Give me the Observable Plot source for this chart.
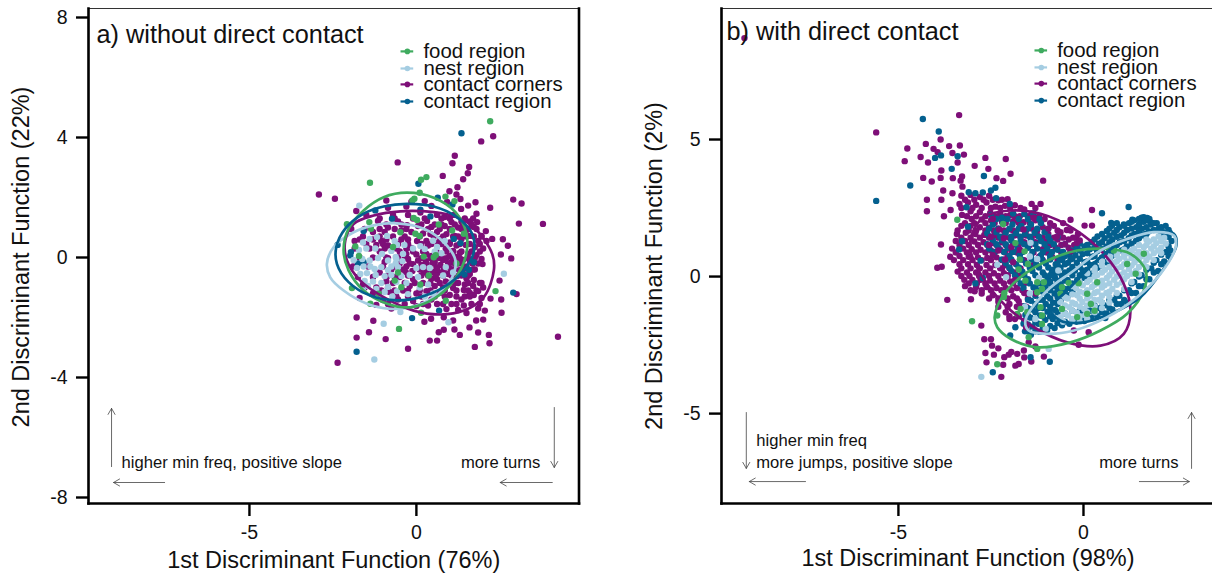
<!DOCTYPE html>
<html><head><meta charset="utf-8">
<script src="https://cdn.jsdelivr.net/npm/d3@7"></script>
<script src="https://cdn.jsdelivr.net/npm/@observablehq/plot@0.6"></script>
<style>
html,body{margin:0;padding:0;background:#fff;overflow:hidden;width:1212px;height:575px}
#wrap{position:relative;width:1212px;height:575px;overflow:hidden}
#wrap svg{position:absolute;top:0;background:transparent}
</style></head><body><div id="wrap"></div>
<script>
const regions = ["food region","nest region","contact corners","contact region"];
const colors = ["#3fab5f","#a5cde2","#7e0f78","#04608f"];

// Panel a
const foodA = [[2.21,4.54],[.30,2.68],[.14,2.59],[-1.39,2.49],[.10,2.16],[-.06,1.96],[-.12,1.9],[.87,2.03],[1.14,1.88],[-.08,1.32],[.02,1.25],[-1.41,1.18],[-2.08,1.11],[-1.36,.96],[-.48,.84],[.67,1.10],[1.07,.90],[1.42,.79],[-.03,.79],[.1,.72],[-1.83,.37],[-1.72,.05],[.52,.01],[.58,.08],[.22,.03],[-.65,-.77],[-1.13,-1.21],[-1.93,-1.02],[-.45,-.99],[.12,-.90],[.37,-.60],[.88,-1.44],[.14,-1.84],[2.37,-1.12],[-.52,-2.38],[-1.38,-1.54],[-.7,.35],[-.55,-.5],[1.2,-.2]];
const nestA = [[-1.71,1.73],[2.62,-.54],[-.98,-2.21],[.96,-2.16],[-1.26,-3.40],[-.48,-1.82],
[-1.6,.5],[-1.4,.62],[-1.18,.68],[-.88,.72],[-.65,.55],[-.58,.42],[-.36,.42],[.12,.38],[.5,.56],[.85,.55],[.62,.35],
[-1.72,.25],[-1.5,.3],[-1.23,.3],[-1.03,.12],[-.75,.22],[-.62,.02],[-.4,.12],[-.1,.3],[.25,.28],[.55,.2],[.75,.14],
[-1.88,-.08],[-1.62,-.05],[-1.4,-.1],[-1.15,-.02],[-.85,-.1],[-.6,-.05],[-.42,-.12],[-.62,-.2],[-.75,-.3],
[-1.58,-.3],[-1.78,-.35],[-1.38,-.3],[-1.25,-.38],[-1.05,-.32],[-.85,-.42],[-.55,-.32],[.0,-.35],[.2,-.32],[.4,-.35],[.88,-.32],
[-1.68,-.55],[-1.48,-.52],[-1.22,-.58],[-.95,-.62],[-.75,-.58],[-.45,-.62],[-.2,-.58],[.05,-.65],[.8,-.6],[1.1,-.5],
[-1.55,-.78],[-1.3,-.8],[-1.45,-.95],[-1.05,-.85],[-.85,-.98],[-.6,-.82],[-.3,-.85],[.1,-1.0],[.35,-.9],
[-1.2,-1.05],[-.95,-1.15],[-.58,-1.12],[-.25,-1.22],[.25,-1.3],[.5,-1.2],[-.72,-1.3],[-1.6,-1.1]];
const cornersA = [[2.30,4.04],[1.94,3.87],[1.15,3.39],[1.08,3.14],[-.56,3.17],[1.58,3.02],[1.54,2.81],[.79,2.72],[1.40,2.61],[1.23,2.34],[.99,2.21],[1.20,2.10],[-2.92,2.10],[-2.44,1.96],[2.90,1.93],[3.15,1.80],[2.21,1.66],[1.77,1.84],[1.55,1.73],[1.34,1.62],[1.80,1.46],[3.07,1.13],[3.79,1.12],[2.08,.88],[2.59,.61],[2.27,.62],[2.74,.39],[2.53,.10],[2.84,-.03],[2.49,-.77],[3.00,-1.22],[2.54,-1.40],[2.22,-1.37],[2.55,-1.84],[2.00,-2.07],[2.05,-1.77],[1.79,-2.10],[1.59,-2.33],[1.14,-2.40],[1.30,-2.58],[1.85,-2.50],[2.17,-2.58],[2.19,-2.86],[1.75,-2.98],[4.24,-2.64],[.62,-2.77],[.40,-2.77],[-.25,-3.04],[-.92,-2.72],[-1.79,-2.67],[-1.42,-2.49],[-1.29,-2.11],[-1.79,-2.00],[-2.36,-3.51],[.67,-2.49],[.82,-2.41],[1.10,-2.10],[.24,-2.14],[.44,-2.04],[.82,-1.99],
[-.9,1.9],[-.15,1.86],[.25,1.88],[.45,1.72],[.92,1.85],[1.32,1.95],[-.85,1.66],[-.3,1.7],[-1.8,1.55],[-1.5,1.42],[-.7,1.42],[-.25,1.42],[.12,1.5],[.32,1.22],[.62,1.42],[.85,1.35],[1.12,1.42],[1.35,1.2],[1.6,1.2],[1.82,1.18],
[-1.15,1.22],[-.55,1.2],[-.28,1.08],[.05,1.05],[.45,1.02],[.85,1.05],[1.05,1.18],[1.25,1.0],[1.5,.92],[1.72,1.02],[1.95,.72],[-1.95,.95],[-.85,1.0],[-1.3,.85],[-.95,.85],[-.45,.9],[-.15,.85],[.2,.8],[.42,.78],[.62,.85],[.9,.78],[1.15,.72],[1.35,.62],[1.6,.72],[1.85,.55],[2.1,.55],
[-1.05,.55],[-.25,.6],[.02,.55],[.3,.55],[.72,.62],[1.0,.5],[1.2,.4],[1.48,.42],[1.75,.35],[2.0,.3],[-1.85,.55],[-1.2,.42],[-.85,.4],[-.15,.32],[.35,.4],[.65,.5],[.88,.3],[1.1,.22],[1.3,.15],[1.55,.12],[1.8,.08],[1.95,-.05],
[-.3,.12],[.0,.1],[.3,.12],[.45,.05],[.75,.02],[1.0,.05],[1.18,.02],[1.4,-.08],[1.6,-.12],[1.85,-.2],[1.98,-.22],[-.95,-.15],[-.25,-.05],[.05,-.1],[.28,-.12],[.55,-.15],[.8,-.08],[1.05,-.15],[1.25,-.2],[1.5,-.3],[1.75,-.4],
[-.3,-.3],[-.1,-.22],[.15,-.25],[.6,-.32],[.72,-.25],[1.0,-.35],[1.28,-.42],[1.6,-.55],[-1.1,-.5],[-.32,-.48],[-.12,-.45],[.22,-.5],[.5,-.48],[.68,-.5],[.95,-.55],[1.22,-.62],[1.5,-.7],[1.72,-.75],[1.9,-.85],[2.0,-1.0],
[-.65,-.65],[-.1,-.72],[.45,-.7],[.62,-.72],[.88,-.8],[1.15,-.85],[1.45,-.9],[1.7,-.95],[1.85,-1.12],[-1.6,-.9],[-.9,-.8],[-.2,-.95],[.55,-.95],[.8,-1.0],[1.1,-1.02],[1.42,-1.08],[1.6,-1.18],[1.72,-1.25],[1.45,-1.3],
[-1.3,-1.2],[-.8,-1.15],[-.4,-1.1],[.0,-1.2],[.3,-1.12],[.7,-1.18],[1.0,-1.25],[1.35,-1.4],[1.95,-1.35],[-1.0,-1.42],[-.55,-1.4],[-.1,-1.45],[.45,-1.4],[.62,-1.55],[1.05,-1.55],[1.42,-1.6],[1.9,-1.55],[-1.7,-1.35],[-1.2,-1.58],[-.75,-1.7],[.0,-1.62],[.35,-1.6],[.9,-1.72],[1.25,-1.75],[1.5,-1.85],[1.85,-1.7]];
const cornersARows = [[1.3,[-1.1,-.65,-.1,.25,.75,1.0,1.45,1.7]],[1.1,[-.9,-.45,.15,.55,.75,1.15,1.4,1.65]],[.95,[-1.55,-1.1,-.65,-.3,.35,.7,1.0,1.35,1.55,1.8]],[.7,[-1.6,-1.1,-.7,-.35,.1,.52,.8,1.1,1.25,1.5,1.72,1.95]],[.45,[-1.5,-1,-.55,-.25,.15,.45,.75,1.0,1.3,1.6,1.9]],[.2,[-1.1,-.5,-.1,.2,.6,.9,1.1,1.35,1.65,1.9]],[-.02,[-.85,-.35,.15,.42,.68,.9,1.12,1.3,1.55,1.75]],[-.2,[-.5,-.2,.3,.48,.95,1.15,1.35,1.68]],[-.4,[-.75,-.4,.1,.35,.62,.82,1.12,1.4,1.7]],[-.6,[-.85,-.25,.15,.35,.58,.8,1.05,1.35,1.55]],[-.85,[-.7,-.35,-.05,.2,.42,.7,.98,1.25,1.55,1.95]],[-1.1,[-1.05,-.65,-.25,.1,.42,.85,1.2,1.55,1.8]],[-1.3,[-.6,-.25,.15,.55,.85,1.2,1.6]],[-1.55,[-.85,-.35,.2,.8,1.2,1.65]],
[.6,[-1.7,-1.3,-.9,-.45]],[.3,[-1.85,-1.4,-.95,-.6,-.3]],[0,[-1.7,-1.3,-.9,-.55]],[-.3,[-1.9,-1.45,-1,-.65]],[-.65,[-1.75,-1.3,-.9,-.5]],[-1,[-1.55,-1.2,-.85]]];
const regionA = [[1.35,4.14],[.06,2.46],[.64,1.99],[1.08,1.77],[-.73,1.29],[.42,1.37],[-1.58,.88],[-2.36,.42],[-1.96,.18],[-1.98,.07],[1.12,.62],[1.32,.48],[-1.58,-.16],[1.44,-.57],[1.72,-.16],[2.90,-1.17],[.68,-1.77],[-.13,-2.02],[-1.79,-3.14],[.12,1.59],[-1.23,1.57],[1.57,-.41],[-1.75,-.2]];
const ellipseA = {
 food:[[-.28,2.16],[.52,1.99],[1.17,1.51],[1.50,.79],[1.47,.01],[1.12,-.77],[.52,-1.38],[-.18,-1.66],[-.88,-1.54],[-1.58,-1.10],[-2.03,-.43],[-2.18,.23],[-2.03,.96],[-1.58,1.57],[-.98,2.01]],
 nest:[[-2.68,-.21],[-2.48,.34],[-1.88,.84],[-1.28,1.07],[-.58,1.14],[.22,.96],[.82,.51],[1.17,-.10],[1.02,-.77],[.52,-1.32],[-.18,-1.66],[-.78,-1.71],[-1.48,-1.54],[-2.18,-1.10],[-2.58,-.66]],
 corners:[[-.48,1.54],[.52,1.51],[1.22,1.34],[1.72,1.01],[2.27,.12],[2.32,-.43],[2.02,-1.32],[1.42,-1.77],[.72,-1.90],[-.08,-1.77],[-.98,-1.32],[-1.68,-.77],[-2.08,-.10],[-2.13,.57],[-1.88,1.12],[-1.28,1.40]],
 region:[[-.28,1.79],[.52,1.70],[1.22,1.34],[1.67,.79],[1.72,.18],[1.42,-.43],[.82,-.99],[.12,-1.32],[-.58,-1.43],[-1.38,-1.27],[-2.03,-.82],[-2.38,-.21],[-2.40,.34],[-2.13,.96],[-1.58,1.46],[-.98,1.70]]
};

// Panel b
const foodB = [[-3.41,2.07],[-2.17,1.92],[-1.84,1.22],[-1.59,.92],[-1.72,.62],[-1.50,.46],[-1.75,.26],[-1.25,-.21],[-1.07,-.21],[-1.12,-.45],[-1.25,-.57],[-1.57,-.15],[-2.14,-.61],[-2.15,-.75],[-2.33,-1.42],[-1.70,-1.18],[-1.79,-1.36],[-1.52,-1.30],[-1.16,-1.12],[-1.12,-1.42],[-1.12,-1.73],[-3.01,-1.63],[-1.48,-2.21],[-1.25,-2.64],[-2.33,-3.20],[-.62,-.63],[-.40,-.23],[-.13,-.24],[-.58,-.39],[.10,-.63],[.37,-.21],[-.58,-1.18],[-.17,-1.48],[.10,-1.36],[1.41,.10],[1.63,.83],[.82,.95],[1.18,.46],[.2,-1.0],[.3,-1.25]];
const nestB = [[-2.76,-3.66],[-.94,-2.64],[-1.43,1.23],[-1.45,.73],[-1.25,.64],[-2.33,.43],[-2.09,-.02],[-1.2,-.05],[-.68,.22],[-1.58,-1.1],[-1.45,-.62],[-1.3,-1.55],[-1.02,-1.9],
[-.62,-1.48],[-.58,-1.2],[-.63,-.92],[-.42,-1.42],[-.38,-1.12],[-.43,-.8],[-.18,-1.32],[-.22,-1.0],[-.17,-.68],[-.2,-.42],[.02,-1.18],[-.03,-.93],[.03,-.6],[-.02,-.32],[.2,-.96],[.18,-.7],[.23,-.38],[.17,-.12],[.42,-.85],[.38,-.55],[.42,-.25],[.37,.05],[.62,-.6],[.57,-.32],[.63,-.05],[.58,.25],[.78,-.45],[.83,-.12],[.77,.18],[.82,.5],[1.03,-.22],[.98,.07],[1.02,.35],[.97,.65],[1.18,.02],[1.23,.28],[1.17,.55],[1.22,.85],[1.42,.2],[1.38,.52],[1.43,.8],[1.37,1.02],[1.62,.45],[1.58,.75],[1.63,1.07],[1.78,.72],[1.83,1.02],[1.77,1.28],[2.02,.95],[1.97,1.22],[2.03,1.46],[2.22,1.2],[2.18,1.42],[.5,.55],[.72,.72],[.3,.32],[.1,.12],[1.1,.82],[.92,.88],[-.55,-1.65],[-.3,-1.6],[.05,-1.4]];
const nestBCols = [[-.5,[-1.35,-1.05,-.75]],[-.3,[-1.55,-1.25,-.95,-.65,-.35]],[-.1,[-1.65,-1.45,-1.1,-.8,-.55,-.25]],[.1,[-1.55,-1.3,-1.05,-.8,-.5,-.2]],[.3,[-1.3,-1.08,-.85,-.6,-.3,0,.2]],[.5,[-1.15,-.95,-.7,-.4,-.15,.15,.4]],[.7,[-.95,-.75,-.55,-.25,.05,.35,.62]],[.9,[-.6,-.3,0,.3,.55,.78]],[1.1,[-.45,-.1,.15,.45,.72,.98]],[1.3,[-.2,.1,.4,.68,.95]],[1.5,[.08,.35,.62,.9,1.15]],[1.7,[.35,.6,.85,1.15,1.35]],[1.9,[.6,.85,1.1,1.35]],[2.1,[.85,1.05,1.3]]];
const cornersB = [[-9.16,8.7],[-3.36,5.89],[-5.60,5.26],[-3.86,5.00],[-4.26,4.84],[-4.76,4.67],[-3.63,4.76],[-3.34,4.78],[-4.05,4.66],[-3.94,4.54],[-3.54,4.51],[-3.23,4.45],[-4.40,4.36],[-4.83,4.21],[-4.20,4.16],[-3.40,4.16],[-2.65,4.33],[-2.10,4.29],[-2.94,4.04],[-2.57,3.93],[-3.84,3.87],[-1.97,3.75],[-4.33,3.60],[-4.10,3.47],[-3.86,3.60],[-3.53,3.59],[-3.32,3.50],[-3.28,3.65],[-2.35,3.59],[-2.17,3.49],[-1.09,3.50],[-3.79,3.14],[-3.54,3.04],[-3.27,3.28],[-4.23,2.80],[-3.84,2.80],[-4.23,2.38],[-3.59,2.43],[-3.77,2.20],[-3.85,1.17],[-3.95,.32],[-3.83,.36],[-3.68,-.85],[-1.40,2.65],[-1.16,2.65],[.23,2.43],[-.35,2.07],[.03,1.86],[.23,1.86],[-2.68,-2.29],[-2.50,-2.29],[-2.47,-2.52],[-2.65,-2.79],[-2.42,-2.85],[-2.62,-3.13],[-2.17,-3.22],[-2.22,-3.66],[-2.14,-2.94],[-2.02,-2.85],[-1.84,-3.25],[-1.75,-3.19],[-1.61,-2.70],[-1.41,-3.10],[-1.07,-2.92],[-1.79,-2.82],[-2.76,-1.79],[-3.04,-.83],[-2.94,-.54],[-.13,-2.49],[-1.48,-2.40],[.14,-2.03],[-.26,-1.97],[-1.95,-2.75],[-1.6,-2.95],[-1.3,-2.55],[-2.3,-2.62],
[-3.3,2.95],[-3.05,2.98],[-2.8,2.9],[-2.55,2.95],[-2.3,2.78],[-2.05,2.82],[-3.35,2.65],[-3.12,2.7],[-2.9,2.62],[-2.62,2.7],[-2.38,2.55],[-2.12,2.58],[-1.85,2.6],[-1.6,2.45],[-3.28,2.25],[-3.05,2.38],[-2.8,2.35],[-2.52,2.32],[-2.25,2.28],[-1.98,2.25],[-1.72,2.2],[-1.4,2.3],[-3.02,2.1],[-2.75,2.08],[-2.5,2.05],[-2.2,2.0],[-1.9,2.02],[-1.62,1.98],[-1.3,2.05],[-1.05,2.1],[-3.3,1.85],[-3.05,1.85],[-2.8,1.8],[-2.55,1.78],[-2.3,1.75],[-2.0,1.72],[-1.7,1.75],[-1.4,1.75],[-1.1,1.8],[-.8,1.85],[-3.42,1.55],[-3.18,1.6],[-2.92,1.55],[-2.68,1.52],[-2.4,1.5],[-2.15,1.48],[-1.85,1.5],[-1.55,1.5],[-1.25,1.5],[-.95,1.55],[-.65,1.6],[-.45,1.7],
[-3.45,1.3],[-3.2,1.3],[-2.95,1.28],[-2.7,1.25],[-2.45,1.22],[-2.2,1.25],[-1.9,1.22],[-1.6,1.25],[-1.3,1.25],[-1.0,1.28],[-.7,1.35],[-.4,1.35],[-.15,1.55],[-3.55,1.02],[-3.25,1.02],[-3.02,1.0],[-2.78,.98],[-2.5,.95],[-2.25,.98],[-1.95,.95],[-1.1,1.0],[-.75,1.05],[-.4,1.05],[-3.6,.72],[-3.35,.75],[-3.1,.72],[-2.85,.7],[-2.6,.68],[-2.35,.7],[-2.05,.7],[-1.2,.72],[-.85,.72],[-3.35,.45],[-3.12,.45],[-2.88,.42],[-2.62,.42],[-2.38,.42],[-2.12,.42],[-1.35,.42],[-3.4,.18],[-3.15,.15],[-2.9,.15],[-2.65,.15],[-2.42,.12],[-2.15,.12],[-1.85,.15],[-3.22,-.12],[-3.0,-.12],[-2.78,-.12],[-2.52,-.15],[-2.25,-.15],[-1.98,-.18],[-3.2,-.35],[-2.9,-.38],[-2.62,-.38],[-2.35,-.42],[-2.1,-.42],[-1.8,-.42],[-2.75,-.62],[-2.45,-.68],[-2.18,-.72],[-1.9,-.72],[-1.6,-.6],[-2.3,-.92],[-2.0,-1.0],[-1.75,-.9],[-2.1,-1.3],[-1.85,-1.55],[-1.6,-1.62]];
const cornersBRows = [[2.8,[-3.2,-2.95,-2.7,-2.45,-2.2]],[2.5,[-3.3,-3.0,-2.75,-2.5,-2.25,-1.98,-1.7,-1.3]],[2.2,[-3.15,-2.9,-2.65,-2.38,-2.1,-1.85,-1.5,-1.2]],[1.95,[-3.2,-2.95,-2.65,-2.4,-2.1,-1.75,-1.45,-1.15,-.9,-.55]],[1.68,[-3.4,-3.1,-2.9,-2.65,-2.42,-2.15,-1.9,-1.55,-1.25,-1.0,-.7,-.35]],[1.42,[-3.3,-3.05,-2.8,-2.55,-2.3,-2.0,-1.7,-1.4,-1.1,-.8,-.55,-.2]],[1.15,[-3.35,-3.1,-2.85,-2.6,-2.35,-2.1,-1.75,-1.45,-.9,-.6,-.25]],[.88,[-3.45,-3.15,-2.9,-2.65,-2.4,-2.12,-1.8,-1.35,-1.0,-.6]],[.6,[-3.5,-3.25,-3.0,-2.75,-2.5,-2.22,-1.95,-1.6,-1.1,-.7]],[.3,[-3.3,-3.05,-2.8,-2.52,-2.25,-2.0,-1.7]],[.02,[-3.3,-3.08,-2.82,-2.55,-2.3,-2.05,-1.75]],[-.25,[-3.1,-2.88,-2.65,-2.4,-2.15,-1.9,-1.6]],[-.5,[-3.05,-2.75,-2.5,-2.22,-1.95,-1.65]],[-.8,[-2.55,-2.3,-2.05,-1.8,-1.5]],[-1.1,[-2.3,-2.05,-1.8,-1.55]],[-1.45,[-2.0,-1.75,-1.5]]];
const cornersBTop = [[-2.45,2.1],[-2.28,1.72],[-2.5,1.45],[-2.15,1.4],[-2.55,1.15],[-2.3,.95],[-2.45,.78],[-2.12,.62],[-1.95,1.08],[-1.9,.52],[-2.2,.3],[-2.05,.05],[-1.85,-.12],[-1.62,1.72],[-1.72,.98],[-1.35,2.15],[-.95,1.75],[-.72,1.45],[-.5,1.18],[-.28,1.42],[-.18,1.22],[-.62,1.62],[-.35,.92],[-.1,1.32],[-1.55,-.6],[-1.3,-.62],[-2.0,-1.55],[-1.55,-1.85],[-1.72,-1.05]];
const regionB = [[-4.34,5.75],[-3.91,5.29],[-3.85,4.42],[-4.01,4.33],[-3.40,4.39],[-3.56,3.93],[-2.69,3.67],[-4.68,3.32],[-5.60,2.76],[-3.10,3.08],[-2.92,3.04],[-2.72,3.07],[-2.50,3.14],[-2.38,3.24],[-2.36,2.86],[-3.16,2.53],[-1.99,2.65],[-3.28,1.29],[-3.36,.99],[-2.78,.58],[-3.12,1.82],[.50,2.31],[1.22,2.54],[.75,1.96],[1.09,1.90],[1.32,2.07],[1.63,2.17],[1.72,2.14],[1.81,1.98],[-.91,-3.11],[-2.45,-3.49],[-1.43,-2.94],[.59,-1.51],[-1.84,-1.85],[-2.92,-.25],[-2.72,-.05],[-1.98,-2.15],
[-2.5,2.25],[-2.2,2.15],[-1.9,2.3],[-1.6,2.28],[-1.35,2.3],[-2.45,1.9],[-2.18,1.95],[-1.92,1.9],[-1.68,1.85],[-1.42,1.9],[-1.15,1.95],[-2.6,1.58],[-2.35,1.62],[-2.1,1.6],[-1.82,1.58],[-1.58,1.55],[-1.32,1.6],[-1.05,1.62],[-2.45,1.32],[-2.2,1.32],[-1.95,1.32],[-1.7,1.28],[-1.42,1.32],[-1.15,1.3],[-.9,1.3],[-2.55,1.02],[-2.3,1.05],[-2.05,1.05],[-1.78,1.02],[-1.5,1.05],[-1.25,1.02],[-.98,1.02],[-.7,.98],[-2.0,.75],[-1.72,.78],[-1.42,.75],[-1.15,.78],[-.9,.75],[-.6,.72],[-2.1,.48],[-1.82,.45],[-1.55,.48],[-1.28,.45],[-1.02,.48],[-.75,.45],[-1.95,.2],[-1.65,.18],[-1.38,.2],[-1.1,.15],[-.85,.18],[-1.78,-.08],[-1.5,-.1],[-1.2,-.12],[-.95,-.1],[-1.62,-.42],[-1.35,-.4],[-1.08,-.42],
[-1.58,-2.0],[-1.62,-1.72],[-1.57,-1.4],[-1.62,-1.08],[-1.42,-2.12],[-1.38,-1.82],[-1.43,-1.5],[-1.38,-1.2],[-1.42,-.88],[-1.18,-2.02],[-1.22,-1.72],[-1.17,-1.42],[-1.22,-1.15],[-1.18,-.85],[-1.22,-.52],[-.98,-1.95],[-1.03,-1.58],[-.97,-1.28],[-1.02,-1.0],[-.98,-.72],[-1.03,-.38],[-.97,-.12],[-.78,-1.88],[-.83,-1.55],[-.77,-1.22],[-.82,-.95],[-.78,-.62],[-.83,-.35],[-.77,-.05],[-.82,.25],[-.58,-1.78],[-.62,-.88],[-.57,-.58],[-.62,-.28],[-.58,.02],[-.62,.32],[-.57,.6],[-.38,-1.72],[-.42,-.68],[-.37,-.42],[-.43,-.12],[-.38,.22],[-.42,.5],[-.38,.82],[-.18,-1.65],[-.22,-.42],[-.17,-.12],[-.23,.22],[-.18,.5],[-.22,.78],[-.17,1.05],[.02,-1.62],[-.03,-1.38],[.03,-.05],[-.02,.22],[.03,.52],[-.02,.82],[.03,1.1],[.22,-1.52],[.18,-1.25],[.22,.1],[.18,.42],[.23,.72],[.17,1.0],[.22,1.25],[.38,-1.45],[.43,-1.15],[.38,.32],[.43,.6],[.37,.92],[.42,1.2],[.38,1.46],[.62,-1.35],[.57,-1.05],[.63,.52],[.58,.82],[.62,1.1],[.57,1.4],[.63,1.66],[.78,-1.2],[.83,-.85],[.77,.76],[.82,1.05],[.78,1.35],[.83,1.6],[.77,1.85],[1.02,-1.0],[.97,-.7],[1.03,.95],[.98,1.25],[1.02,1.5],[.97,1.8],[1.18,-.95],[1.23,-.5],[1.17,1.1],[1.22,1.4],[1.18,1.7],[1.23,1.95],[1.42,-.6],[1.37,-.2],[1.42,1.3],[1.38,1.55],[1.43,1.8],[1.37,2.05],[1.62,-.35],[1.57,.05],[1.63,1.5],[1.58,1.75],[1.62,2.0],[1.57,2.15],[1.78,-.1],[1.83,.3],[1.77,1.65],[1.82,1.9],[1.78,2.1],[2.02,.2],[1.97,.6],[2.03,1.75],[1.98,1.95],[2.18,.55],[2.23,.9],[2.17,1.6],[2.22,1.85],[2.35,.95],[2.38,1.3],[2.33,1.6]];
const regionBCols = [[-1.5,[-2.0,-1.75,-1.45,-1.15,-.85]],[-1.3,[-2.0,-1.65,-1.3,-1.0,-.7,-.4]],[-1.1,[-1.9,-1.45,-1.15,-.85,-.55,-.25]],[-.9,[-1.8,-1.45,-1.1,-.8,-.5,-.2,.05]],[-.7,[-1.7,-1.3,-1.0,-.75,-.45,-.15,.15,.45]],[-.5,[-1.65,-1.35,-.75,-.45,-.15,.15,.45,.75]],[-.3,[-1.6,-1.25,-.55,-.25,.05,.35,.65,.95]],[-.1,[-1.5,-1.25,-.25,.05,.35,.65,.95,1.2]],[.1,[-1.45,-1.15,-.05,.25,.55,.85,1.15]],[.3,[-1.35,-1.05,.15,.45,.75,1.05,1.35]],[.5,[-1.3,-.95,.4,.7,1.0,1.25,1.55]],[.7,[-1.15,-.85,.65,.95,1.25,1.5,1.75]],[.9,[-1.0,-.7,.85,1.15,1.45,1.7,1.95]],[1.1,[-.85,-.5,1.0,1.3,1.6,1.85]],[1.3,[-.6,-.25,1.2,1.5,1.75,2.0]],[1.5,[-.35,0,1.4,1.65,1.9,2.1]],[1.7,[-.1,.25,1.55,1.8,2.05]],[1.9,[.15,.5,1.7,1.95]],[2.1,[.45,.8,1.55,1.8]],[2.3,[.75,1.1,1.45,1.7]]];
const regionBRows = [[2.1,[-2.35,-2.05,-1.75,-1.5,-1.2]],[1.75,[-2.55,-2.3,-2.0,-1.75,-1.5,-1.25,-.95]],[1.45,[-2.5,-2.25,-1.95,-1.7,-1.45,-1.2,-.95,-.7]],[1.18,[-2.6,-2.35,-2.1,-1.85,-1.6,-1.3,-1.05,-.8,-.5]],[.9,[-2.4,-2.15,-1.9,-1.65,-1.38,-1.1,-.85,-.55]],[.62,[-2.2,-1.95,-1.68,-1.4,-1.12,-.9,-.65,-.35]],[.33,[-2.0,-1.75,-1.45,-1.2,-.95,-.7]],[.05,[-1.85,-1.6,-1.3,-1.05,-.8]],[-.25,[-1.7,-1.45,-1.2,-.95,-.7]]];
const ellipseB = {
 food:[[-2.40,-1.48],[-2.20,-.75],[-1.70,-.02],[-.98,.58],[-.17,.95],[.64,1.01],[1.27,.83],[1.68,.22],[1.63,-.51],[1.18,-1.36],[.46,-1.97],[-.35,-2.40],[-1.25,-2.58],[-1.97,-2.27],[-2.33,-1.85]],
 nest:[[-1.57,-1.61],[-.98,-.51],[-.26,.22],[.46,.95],[1.18,1.37],[1.90,1.62],[2.44,1.50],[2.49,1.07],[2.08,.10],[1.45,-.75],[.64,-1.48],[-.26,-1.97],[-.98,-2.09],[-1.48,-1.97]],
 corners:[[-3.01,1.56],[-2.69,2.17],[-1.97,2.41],[-1.16,2.29],[-.26,1.74],[.55,.83],[1.09,-.27],[1.27,-1.24],[1.09,-2.09],[.46,-2.52],[-.44,-2.40],[-1.34,-1.85],[-2.15,-1.00],[-2.78,.10],[-3.05,.95]],
 region:[[-.89,-1.18],[-.44,-.51],[.46,.71],[1.18,1.37],[1.90,1.68],[2.44,1.56],[2.51,1.13],[2.13,.22],[1.54,-.75],[.73,-1.36],[.01,-1.67],[-.62,-1.61]]
};

const ticksAx=[-5,0], ticksAy=[-8,-4,0,4,8], ticksBx=[-5,0], ticksBy=[-5,0,5];
const font="Liberation Sans, Arial, sans-serif";
const ink="#111";
const fromRows=rows=>rows.flatMap(([y,xs])=>xs.map(x=>[x,y]));
const fromCols=cols=>cols.flatMap(([x,ys])=>ys.map(y=>[x,y]));

function panel(o){
  const dotMark=(arr,c)=>Plot.dot(arr,{x:d=>d[0],y:d=>d[1],r:3.2,fill:c,stroke:"none"});
  const ell=(arr,c)=>Plot.line(arr,{x:d=>d[0],y:d=>d[1],stroke:c,strokeWidth:2.7,curve:"catmull-rom-closed"});
  const arrow=(a)=>Plot.arrow([a],{x1:a[0],y1:a[1],x2:a[2],y2:a[3],stroke:"#444",strokeWidth:.8,headLength:13,headAngle:60,bend:0});
  return Plot.plot({
    width:o.width,height:575,
    marginLeft:o.ml,marginRight:o.mr,marginTop:8,marginBottom:72,
    style:{fontFamily:font,background:"transparent"},
    x:{domain:o.xd,axis:null},
    y:{domain:o.yd,axis:null},
    marks:[
      ...o.dots.map(([a,c])=>dotMark(a,c)),
      ...o.ell.map(([a,c])=>ell(a,c)),
      Plot.frame({anchor:"top",stroke:"#333",strokeWidth:1.2}),
      Plot.frame({anchor:"left",stroke:"#000",strokeWidth:2.6}),
      Plot.frame({anchor:"bottom",stroke:"#000",strokeWidth:2.6}),
      Plot.frame({anchor:"right",stroke:"#000",strokeWidth:2.6}),
      Plot.axisX(o.xt,{anchor:"bottom",tickSize:13,strokeWidth:2.4,stroke:"#000",fontSize:19.5,tickPadding:9,label:null,tickFormat:d=>String(d),fill:ink}),
      Plot.axisY(o.yt,{anchor:"left",tickSize:12,strokeWidth:2.4,stroke:"#000",fontSize:19.5,tickPadding:9,label:null,tickFormat:d=>String(d),fill:ink}),
      Plot.text([o.xl],{frameAnchor:"bottom",dy:o.xldy,dx:o.xldx,fontSize:23.5,fill:ink}),
      Plot.text([o.yl],{frameAnchor:"left",textAnchor:"middle",dx:o.yldx,dy:o.yldy,rotate:-90,fontSize:23.5,fill:ink}),
      Plot.text([o.title],{frameAnchor:"top-left",dx:o.tdx,dy:o.tdy,fontSize:25.3,fill:ink,lineAnchor:"middle"}),
      ...regions.map((r,i)=>Plot.ruleY([o.legY[i]],{x1:o.legM-o.legW,x2:o.legM+o.legW,stroke:colors[i],strokeWidth:2.2})),
      ...regions.map((r,i)=>Plot.dot([[o.legM,o.legY[i]]],{x:d=>d[0],y:d=>d[1],r:2.8,fill:colors[i]})),
      ...regions.map((r,i)=>Plot.text([r],{x:o.legT,y:o.legY[i],textAnchor:"start",fontSize:20.4,fill:ink})),
      ...o.arrows.map(arrow),
      ...o.notes.map(n=>Plot.text([n[0]],{x:n[1],y:n[2],textAnchor:n[3],fontSize:16.6,fill:ink}))
    ]
  });
}

const a=panel({width:606,ml:88,mr:27.5,xd:[-9.82,4.87],yd:[-8.2,8.3],xt:ticksAx,yt:ticksAy,
  dots:[[cornersA.concat(fromRows(cornersARows)),colors[2]],[regionA,colors[3]],[nestA,colors[1]],[foodA,colors[0]]],
  ell:[[ellipseA.nest,colors[1]],[ellipseA.corners,colors[2]],[ellipseA.food,colors[0]],[ellipseA.region,colors[3]]],
  xl:"1st Discriminant Function (76%)",yl:"2nd Discriminant Function (22%)",xldx:0,xldy:64,yldx:-67,yldy:1,
  title:"a) without direct contact",tdx:8,tdy:26,
  legY:[6.87,6.30,5.77,5.2],legM:-.27,legW:.19,legT:.21,
  arrows:[[-9.13,-6.97,-9.13,-5.03],[4.13,-5.0,4.13,-7.0],[-7.54,-7.5,-9.07,-7.5],[4.07,-7.5,2.51,-7.5]],
  notes:[["higher min freq, positive slope",-8.83,-6.83,"start"],["more turns",3.71,-6.83,"end"]]
});
const b=panel({width:612,ml:115,mr:4,xd:[-9.78,3.54],yd:[-8.28,9.78],xt:ticksBx,yt:ticksBy,
  dots:[[cornersB.concat(fromRows(cornersBRows)),colors[2]],[regionB.concat(fromRows(regionBRows),fromCols(regionBCols)),colors[3]],[cornersBTop,colors[2]],[nestB.concat(fromCols(nestBCols)),colors[1]],[foodB,colors[0]]],
  ell:[[ellipseB.corners,colors[2]],[ellipseB.food,colors[0]],[ellipseB.region,colors[3]],[ellipseB.nest,colors[1]]],
  xl:"1st Discriminant Function (98%)",yl:"2nd Discriminant Function (2%)",xldx:0,xldy:62,yldx:-67,yldy:10,
  title:"b) with direct contact",tdx:5,tdy:23,
  legY:[8.25,7.63,7.04,6.42],legM:-1.14,legW:.17,legT:-.71,
  arrows:[[-9.11,-4.96,-9.11,-7.0],[2.92,-7.0,2.92,-4.96],[-7.51,-7.48,-9.03,-7.48],[1.51,-7.48,2.86,-7.48]],
  notes:[["higher min freq",-8.84,-5.99,"start"],["more jumps, positive slope",-8.84,-6.79,"start"],["more turns",2.57,-6.79,"end"]]
});
const w=document.getElementById("wrap");
a.style.left="0px"; b.style.left="606px";
w.append(a,b);
</script></body></html>
